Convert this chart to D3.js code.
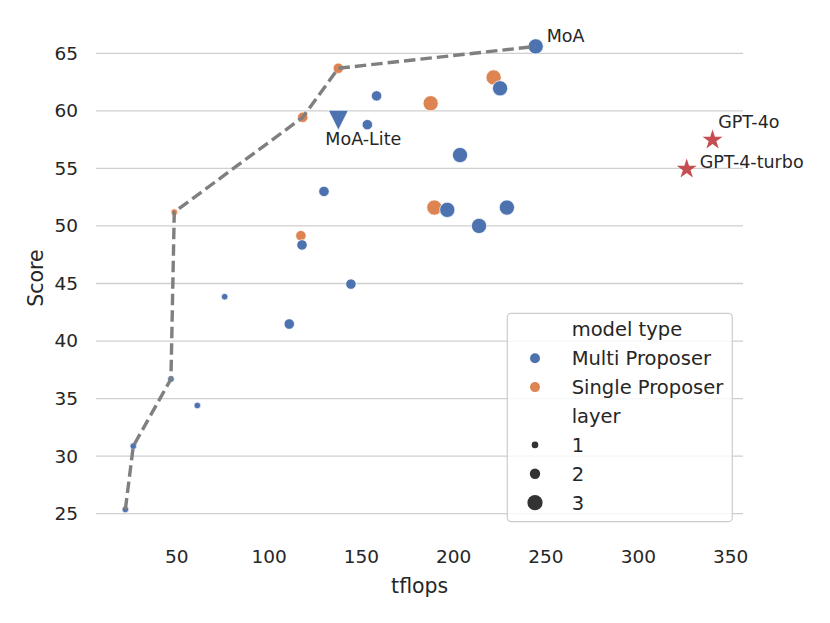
<!DOCTYPE html>
<html>
<head>
<meta charset="utf-8">
<script src="https://cdn.jsdelivr.net/npm/d3@7/dist/d3.min.js"></script>
<style>
  body { margin: 0; background: #fff; }
  svg { display: block; font-family: "DejaVu Sans", sans-serif; }
</style>
</head>
<body>
<svg id="chart" width="830" height="623"></svg>
<script>
// multi proposer runs
var multiTflops = [244.7, 225.4, 158.5, 153.5, 203.7, 130.0, 196.8, 229.1, 214.0, 118.1, 144.6, 76.2, 111.2, 47.1, 61.4, 26.7, 22.4];
var multiScore  = [65.6, 61.96, 61.3, 58.8, 56.16, 53.0, 51.4, 51.6, 50.0, 48.35, 44.95, 43.85, 41.48, 36.7, 34.4, 30.87, 25.37];
var multiLayer  = [3, 3, 2, 2, 3, 2, 3, 3, 3, 2, 2, 1, 2, 1, 1, 1, 1];

// single proposer runs
var singleTflops = [137.8, 118.5, 48.9, 187.8, 221.9, 189.8, 117.5];
var singleScore  = [63.7, 59.44, 51.2, 60.66, 62.9, 51.6, 49.16];
var singleLayer  = [2, 2, 1, 3, 3, 3, 2];

// pareto frontier
var frontTflops = [22.4, 26.7, 47.1, 48.9, 118.5, 137.8, 244.7];
var frontScore  = [25.37, 30.87, 36.7, 51.2, 59.44, 63.7, 65.6];

// reference models
var gptNames  = ["GPT-4o", "GPT-4-turbo"];
var gptTflops = [340.5, 326.5];
var gptScore  = [57.47, 54.95];

var liteTflops = 137.8, liteScore = 59.18;

var xTicks = [50, 100, 150, 200, 250, 300, 350];
var yTicks = [25, 30, 35, 40, 45, 50, 55, 60, 65];
var layers = [1, 2, 3];
var typeNames = ["Multi Proposer", "Single Proposer"];

var blue = "#4c72b0", orange = "#dd8452", red = "#c44e52", ink = "#262626";

var svg = d3.select("#chart");

var x = d3.scaleLinear().domain([6.5, 357]).range([96, 743]);
var y = d3.scaleLinear().domain([25, 65]).range([513.7, 53.3]);
var r = d3.scaleOrdinal().domain(layers).range([3.3, 5.2, 7.6]);

// horizontal grid
svg.append("g")
    .selectAll("line")
    .data(yTicks)
    .enter().append("line")
    .attr("x1", 96).attr("x2", 743)
    .attr("y1", d => y(d)).attr("y2", d => y(d))
    .attr("stroke", "#cfcfcf")
    .attr("stroke-width", 1.3);

// tick labels (no spines)
var yAxis = d3.axisLeft(y).tickValues(yTicks).tickSize(0).tickPadding(0);
var gy = svg.append("g").attr("transform", "translate(78,0)").call(yAxis);
gy.select(".domain").remove();
gy.selectAll("text").attr("font-size", 18.5).attr("fill", ink)
    .attr("font-family", "DejaVu Sans");

var xAxis = d3.axisBottom(x).tickValues(xTicks).tickSize(0).tickPadding(0);
var gx = svg.append("g").attr("transform", "translate(0,550)").call(xAxis);
gx.select(".domain").remove();
gx.selectAll("text").attr("font-size", 18.5).attr("fill", ink)
    .attr("font-family", "DejaVu Sans").attr("dy", "0.71em");

svg.append("text")
    .attr("x", 419.7).attr("y", 593)
    .attr("text-anchor", "middle")
    .attr("font-size", 20.5).attr("fill", ink)
    .text("tflops");

svg.append("text")
    .attr("transform", "translate(43,278) rotate(-90)")
    .attr("text-anchor", "middle")
    .attr("font-size", 20.5).attr("fill", ink)
    .text("Score");

// scatter points
var singles = singleTflops.map((t, i) => ({ t: t, s: singleScore[i], l: singleLayer[i], c: orange }));
var multis = multiTflops.map((t, i) => ({ t: t, s: multiScore[i], l: multiLayer[i], c: blue }));

svg.append("g")
    .selectAll("circle")
    .data(singles.concat(multis))
    .enter().append("circle")
    .attr("cx", d => x(d.t))
    .attr("cy", d => y(d.s))
    .attr("r", d => r(d.l))
    .attr("fill", d => d.c)
    .attr("stroke", "#fff")
    .attr("stroke-width", 0.7);

// MoA-Lite marker
svg.append("path")
    .attr("transform", `translate(${x(liteTflops)},${y(liteScore)})`)
    .attr("d", "M-10,-10L10,-10L0,10Z")
    .attr("fill", blue)
    .attr("stroke", "#fff")
    .attr("stroke-width", 0.7);

// frontier line
var line = d3.line().x(d => x(d[0])).y(d => y(d[1]));
svg.append("path")
    .datum(frontTflops.map((t, i) => [t, frontScore[i]]))
    .attr("d", line)
    .attr("fill", "none")
    .attr("stroke", "#7f7f7f")
    .attr("stroke-width", 3.4)
    .attr("stroke-dasharray", "11.5,5");

// gpt stars
var star = d3.symbol().type(d3.symbolStar).size(124);
svg.append("g")
    .selectAll("path")
    .data(gptTflops)
    .enter().append("path")
    .attr("transform", (d, i) => `translate(${x(d)},${y(gptScore[i])})`)
    .attr("d", star)
    .attr("fill", red);

// annotations
var notes = [
    { text: "MoA", t: multiTflops[0], s: multiScore[0], dx: 11, dy: -4 },
    { text: "MoA-Lite", t: liteTflops, s: liteScore, dx: -13, dy: 25 },
    { text: gptNames[0], t: gptTflops[0], s: gptScore[0], dx: 5.6, dy: -11.7 },
    { text: gptNames[1], t: gptTflops[1], s: gptScore[1], dx: 13, dy: -1.3 }
];
svg.append("g")
    .selectAll("text")
    .data(notes)
    .enter().append("text")
    .attr("x", d => x(d.t) + d.dx)
    .attr("y", d => y(d.s) + d.dy)
    .attr("font-size", 17.5)
    .attr("fill", ink)
    .text(d => d.text);

// legend
var lg = svg.append("g");
lg.append("rect")
    .attr("x", 507.3).attr("y", 313.3)
    .attr("width", 225).attr("height", 208.4)
    .attr("rx", 4)
    .attr("fill", "#fff").attr("fill-opacity", 0.8)
    .attr("stroke", "#cccccc").attr("stroke-width", 1.2);

var rows = [
    { label: "model type" },
    { label: typeNames[0], c: blue, rr: 5 },
    { label: typeNames[1], c: orange, rr: 5 },
    { label: "layer" }
].concat(layers.map(l => ({ label: String(l), c: "#333333", rr: r(l) })));

var row = lg.selectAll("g.row")
    .data(rows)
    .enter().append("g")
    .attr("class", "row")
    .attr("transform", (d, i) => `translate(0,${329.3 + i * 28.9})`);

row.filter(d => d.c)
    .append("circle")
    .attr("cx", 535).attr("cy", 0)
    .attr("r", d => d.rr)
    .attr("fill", d => d.c);

row.append("text")
    .attr("x", 571.7).attr("y", 0)
    .attr("dy", "0.36em")
    .attr("font-size", 19.5)
    .attr("fill", ink)
    .text(d => d.label);
</script>
</body>
</html>
